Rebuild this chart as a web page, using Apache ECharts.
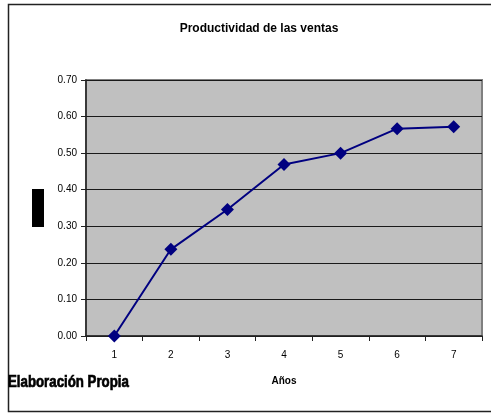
<!DOCTYPE html>
<html>
<head>
<meta charset="utf-8">
<script src="https://cdn.jsdelivr.net/npm/echarts@6/dist/echarts.min.js"></script>
<style>
  html, body { margin: 0; padding: 0; background: #fff; }
  #chart { width: 491px; height: 413px; }
</style>
</head>
<body>
<div id="chart"></div>
<script>
// Years on the horizontal axis and the sales productivity per year
const years = ['1', '2', '3', '4', '5', '6', '7'];
const productivity = [0.00, 0.237, 0.346, 0.469, 0.500, 0.567, 0.572];
const titleText = 'Productividad de las ventas';
const xAxisTitle = 'Años';
const sourceNote = 'Elaboración Propia';

const chart = echarts.init(document.getElementById('chart'), null, { renderer: 'canvas' });

chart.setOption({
  animation: false,
  backgroundColor: '#ffffff',
  title: {
    text: titleText,
    left: 254,
    top: 18,
    textAlign: 'center',
    textStyle: {
      fontFamily: 'Liberation Sans, Arial, sans-serif',
      fontSize: 12,
      fontWeight: 'bold',
      color: '#000'
    }
  },
  grid: {
    left: 86,
    right: 9,
    top: 80,
    bottom: 77,
    show: true,
    backgroundColor: '#c0c0c0',
    borderColor: '#808080',
    borderWidth: 2
  },
  xAxis: {
    type: 'category',
    data: years,
    boundaryGap: true,
    name: xAxisTitle,
    nameLocation: 'middle',
    nameGap: 40,
    nameTextStyle: {
      fontFamily: 'Liberation Sans, Arial, sans-serif',
      fontSize: 10,
      fontWeight: 'bold',
      color: '#000'
    },
    axisLine: { lineStyle: { color: '#222', width: 1.5 } },
    axisTick: { show: true, length: 5, inside: false, lineStyle: { color: '#222' } },
    axisLabel: {
      margin: 14,
      fontFamily: 'Liberation Sans, Arial, sans-serif',
      fontSize: 10,
      color: '#000'
    },
    splitLine: { show: false }
  },
  yAxis: {
    type: 'value',
    min: 0,
    max: 0.7,
    interval: 0.1,
    axisLine: { show: true, lineStyle: { color: '#222', width: 1.5 } },
    axisTick: { show: true, length: 5, lineStyle: { color: '#222' } },
    axisLabel: {
      margin: 9,
      formatter: v => v.toFixed(2),
      fontFamily: 'Liberation Sans, Arial, sans-serif',
      fontSize: 10,
      color: '#000'
    },
    splitLine: { show: true, lineStyle: { color: '#1a1a1a', width: 1 } }
  },
  series: [{
    type: 'line',
    data: productivity,
    symbol: 'diamond',
    symbolSize: [13, 13],
    lineStyle: { color: '#000080', width: 2 },
    itemStyle: { color: '#000080' },
    z: 5
  }],
  graphic: [
    // outer chart frame
    {
      type: 'polyline',
      shape: { points: [[491, 4.5], [8.5, 4.5], [8.5, 411.5], [491, 411.5]] },
      style: { stroke: '#222', lineWidth: 1.5, fill: null },
      silent: true
    },
    // filled axis title block
    {
      type: 'rect',
      shape: { x: 32, y: 189, width: 12, height: 38 },
      style: { fill: '#000' },
      silent: true
    },
    // source note, condensed heavy type
    {
      type: 'text',
      x: 8,
      y: 374,
      scaleX: 0.78,
      style: {
        text: sourceNote,
        fontFamily: 'Liberation Sans, Arial, sans-serif',
        fontSize: 17,
        fontWeight: 'bold',
        fill: '#000',
        stroke: '#000',
        lineWidth: 0.7
      }
    }
  ]
});
</script>
</body>
</html>
